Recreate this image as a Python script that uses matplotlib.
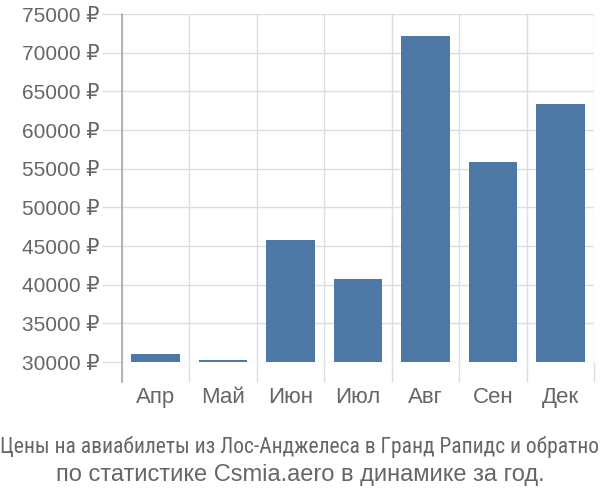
import matplotlib
matplotlib.use("Agg")
import matplotlib.pyplot as plt
from matplotlib.ticker import FuncFormatter

months = ["Апр", "Май", "Июн", "Июл", "Авг", "Сен", "Дек"]
prices = [31030, 30300, 45830, 40780, 72150, 55900, 63320]
yticks = [30000, 35000, 40000, 45000, 50000, 55000, 60000, 65000, 70000, 75000]
title1 = "Цены на авиабилеты из Лос-Анджелеса в Гранд Рапидс и обратно"
title2 = "по статистике Csmia.aero в динамике за год."

plt.rcParams["font.family"] = ["Liberation Sans", "DejaVu Sans"]

fig = plt.figure(figsize=(6, 5), dpi=100)
ax = fig.add_axes([122 / 600, 1 - 362 / 500, 472 / 600, 348 / 500])

x = range(len(months))
ax.bar(x, prices, width=0.72, color="#4e79a7", zorder=3)

ax.set_xlim(-0.5, len(months) - 0.5)
ax.set_ylim(30000, 75000)

ax.set_xticks(list(x))
ax.set_xticklabels(months)
ax.set_xticks([i - 0.5 for i in range(len(months) + 1)], minor=True)
ax.set_yticks(yticks)
ax.yaxis.set_major_formatter(FuncFormatter(lambda v, p: f"{int(v)} ₽"))

ax.tick_params(axis="x", which="major", length=0, pad=18, labelsize=16, labelcolor="#666666")
ax.tick_params(axis="x", which="minor", length=14.4, width=1, color="#dddddd")
ax.tick_params(axis="y", length=14.4, width=1, color="#dddddd", pad=2,
               labelsize=15, labelcolor="#666666")

ax.grid(axis="y", which="major", color="#dddddd", lw=1, zorder=0)
ax.grid(axis="x", which="minor", color="#dddddd", lw=1, zorder=0)

for s in ["top", "right", "bottom", "left"]:
    ax.spines[s].set_visible(False)
ax.plot([0, 0], [-20 / 348, 1], transform=ax.transAxes, color="#aaaaaa",
        lw=1.2, clip_on=False, zorder=4)

fig.text(0.5, 1 - 447 / 500, title1, ha="center", va="center", fontsize=15.5,
         color="#666666",
         family=["Liberation Sans Narrow", "Roboto Condensed", "Liberation Sans", "DejaVu Sans"])
fig.text(0.5, 1 - 475 / 500, title2, ha="center", va="center", fontsize=17,
         color="#666666")

fig.savefig("out.png", dpi=100)
